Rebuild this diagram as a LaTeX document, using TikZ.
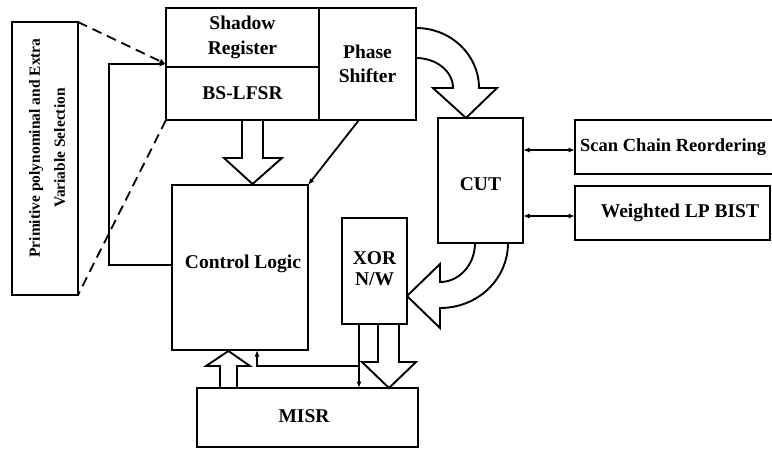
\documentclass[tikz,border=0pt]{standalone}
\usepackage{fontspec}
\setmainfont{Liberation Serif}
\usetikzlibrary{arrows.meta,calc}
\begin{document}
\begin{tikzpicture}[x=1pt,y=-1pt,
  box/.style={draw, line width=1.9pt, inner sep=0pt, outer sep=0pt,
    font=\fontsize{19.5}{24.5}\selectfont\bfseries, align=center},
  lbl/.style={inner sep=0pt, font=\fontsize{19.5}{24.5}\selectfont\bfseries, align=center},
  wire/.style={line width=1.8pt},
  tip/.style={-{Latex[length=6.5pt,width=5pt]}},
  dtip/.style={{Latex[length=6.5pt,width=5pt]}-{Latex[length=6.5pt,width=5pt]}},
  hollow/.style={line width=1.9pt, line join=miter},
  dsh/.style={line width=1.8pt, dash pattern=on 10pt off 6pt}
]
\useasboundingbox (0,0) rectangle (772,448);
\clip (0,0) rectangle (772,448);

% boxes
\node[box, minimum width=66pt, minimum height=273pt] (sel) at (45,158.5) {};
\node[lbl, rotate=90, font=\fontsize{15.5}{25}\selectfont\bfseries] (seltext) at (47,148)
  {Primitive polynominal and Extra\\Variable Selection};
\node[box, minimum width=153pt, minimum height=59pt] (sr) at (242.5,37.5) {Shadow\\Register};
\node[box, minimum width=153pt, minimum height=53pt] (bs) at (242.5,93.5) {BS-LFSR};
\node[box, minimum width=97pt, minimum height=112pt] (ps) at (367.5,64) {Phase\\Shifter};
\node[box, minimum width=136pt, minimum height=165pt] (cl) at (240,267.5) {};
\node[lbl] (cltext) at (243,264) {Control Logic};
\node[box, minimum width=85pt, minimum height=125pt] (cut) at (480.5,180.5) {};
\node[lbl] (cuttext) at (480.5,184) {CUT};
\node[box, minimum width=65pt, minimum height=106pt] (xor) at (374.5,271) {};
\node[lbl, font=\fontsize{19.5}{21}\selectfont\bfseries] (xortext) at (374.5,269) {XOR\\N/W};
\node[box, minimum width=221pt, minimum height=59pt] (misr) at (307.5,417.5) {};
\node[lbl] (misrtext) at (304,416) {MISR};
\node[box, minimum width=215pt, minimum height=54pt] (scan) at (682.5,147) {};
\node[lbl, anchor=west, font=\fontsize{18.5}{23}\selectfont\bfseries] (scantext) at (580,147) {Scan Chain Reordering};
\node[box, minimum width=195pt, minimum height=54pt] (wlp) at (672.5,213) {};
\node[lbl] (wlptext) at (680,213) {Weighted LP BIST};

% feedback and dashed links
\draw[wire,tip] (cl.west |- 0,265) -- (109,265) -- (109,64) -- (sr.west |- 0,64);
\draw[dsh,tip] (sel.north east) -- (sr.west |- 0,64);
\draw[dsh] (bs.south west) -- (sel.south east);

% BS-LFSR -> Control Logic (hollow)
\draw[hollow] (242,120) -- (242,158) -- (224,158) -- (252.5,184) -- (282,158) -- (263,158) -- (263,120);
% Phase shifter -> control logic
\draw[wire,tip] (359,120) -- (cl.north east);

% Phase shifter -> CUT curved hollow arrow
\draw[hollow] (416,28) .. controls (451,28) and (479,55) .. (479,88)
  -- (497,88) -- (466,118) -- (433,88) -- (453,88)
  .. controls (453,71) and (436,58) .. (416,58);

% CUT <-> side boxes
\draw[wire,dtip] (cut.east |- 0,150) -- (scan.west |- 0,150);
\draw[wire,dtip] (cut.east |- 0,216) -- (wlp.west |- 0,216);

% CUT -> XOR curved hollow arrow
\draw[hollow] (508,243) .. controls (508,279) and (478,308) .. (440,308)
  -- (440,328) -- (407,296) -- (440,264) -- (440,282)
  .. controls (459,282) and (475,265) .. (475,243);

% XOR -> MISR
\draw[wire,tip] (359,0 |- xor.south) -- (359,0 |- misr.north);
\draw[hollow] (378,324) -- (378,362) -- (362,362) -- (389,388) -- (416,362) -- (399,362) -- (399,324);
\draw[wire,tip] (359,366) -- (257,366) -- (257,0 |- cl.south);

% MISR -> Control Logic (hollow)
\draw[hollow] (220,388) -- (220,366) -- (206,366) -- (228.5,351) -- (250,366) -- (237,366) -- (237,388);
\end{tikzpicture}
\end{document}
